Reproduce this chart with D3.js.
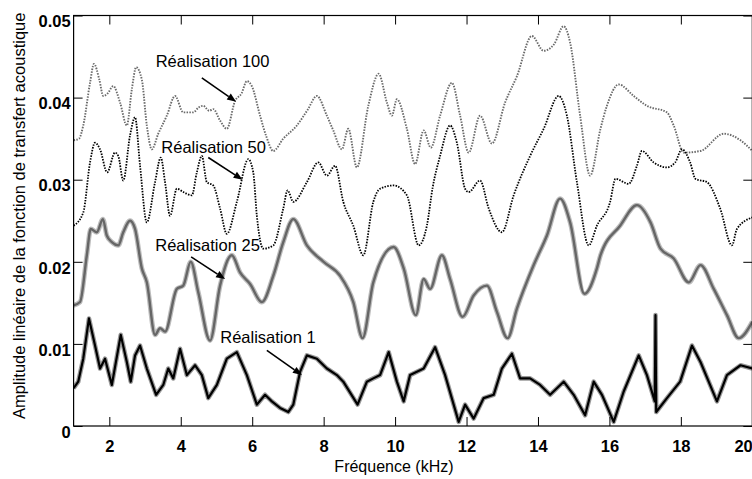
<!DOCTYPE html>
<html>
<head>
<meta charset="utf-8">
<script src="https://cdn.jsdelivr.net/npm/d3@7"></script>
<style>
  html, body { margin: 0; padding: 0; background: #fff; }
  svg { display: block; font-family: "Liberation Sans", Arial, Helvetica, sans-serif; }
</style>
</head>
<body>
<svg id="chart" width="752" height="479"></svg>
<script>
// Transfer-function amplitude for four realisations (frequency in kHz)
const r100Freq = [1.00,1.15,1.27,1.46,1.57,1.72,1.83,1.95,2.11,2.30,2.49,2.63,2.75,2.91,3.05,3.19,3.37,3.61,3.84,4.07,4.35,4.50,4.63,4.80,4.91,5.10,5.29,5.52,5.70,5.85,5.99,6.22,6.40,6.59,6.87,7.25,7.55,7.81,8.09,8.27,8.51,8.69,8.93,9.25,9.54,9.77,9.91,10.05,10.33,10.56,10.80,11.00,11.26,11.59,11.82,12.06,12.38,12.71,13.08,13.41,13.83,14.16,14.45,14.72,14.90,15.18,15.46,15.75,15.93,16.26,16.68,17.05,17.61,17.80,18.08,18.55,19.20,19.67,20.00];
const r100Amp  = [0.0348,0.0350,0.0366,0.0418,0.0441,0.0422,0.0402,0.0405,0.0414,0.0394,0.0366,0.0410,0.0437,0.0422,0.0366,0.0337,0.0356,0.0378,0.0402,0.0382,0.0382,0.0388,0.0390,0.0384,0.0386,0.0372,0.0362,0.0396,0.0405,0.0420,0.0414,0.0378,0.0352,0.0335,0.0350,0.0366,0.0385,0.0402,0.0378,0.0360,0.0337,0.0362,0.0315,0.0390,0.0429,0.0394,0.0378,0.0398,0.0362,0.0319,0.0360,0.0339,0.0378,0.0418,0.0378,0.0333,0.0378,0.0344,0.0394,0.0426,0.0475,0.0457,0.0465,0.0487,0.0467,0.0378,0.0305,0.0362,0.0390,0.0416,0.0402,0.0390,0.0382,0.0366,0.0333,0.0335,0.0356,0.0348,0.0335];

const r50Freq = [1.00,1.27,1.46,1.60,1.74,1.94,2.16,2.25,2.39,2.58,2.72,2.86,3.05,3.28,3.44,3.56,3.70,3.89,4.07,4.31,4.45,4.59,4.73,4.91,5.10,5.29,5.57,5.89,6.03,6.13,6.31,6.59,6.87,6.99,7.15,7.53,7.85,8.09,8.32,8.55,8.83,9.11,9.39,9.58,9.96,10.33,10.66,10.89,11.05,11.26,11.54,11.73,11.96,12.06,12.38,12.62,12.99,13.32,13.78,14.16,14.58,14.81,15.09,15.42,15.65,16.02,16.17,16.54,16.77,16.91,17.24,17.61,17.84,18.03,18.26,18.41,18.73,19.10,19.43,19.57,20.00];
const r50Amp  = [0.0244,0.0260,0.0321,0.0345,0.0337,0.0309,0.0333,0.0329,0.0299,0.0354,0.0376,0.0317,0.0248,0.0297,0.0327,0.0297,0.0256,0.0289,0.0285,0.0281,0.0309,0.0329,0.0297,0.0293,0.0265,0.0234,0.0273,0.0325,0.0309,0.0256,0.0216,0.0220,0.0265,0.0287,0.0273,0.0297,0.0321,0.0305,0.0317,0.0273,0.0244,0.0208,0.0273,0.0289,0.0293,0.0281,0.0220,0.0244,0.0290,0.0329,0.0366,0.0345,0.0289,0.0285,0.0299,0.0265,0.0236,0.0281,0.0329,0.0362,0.0402,0.0378,0.0297,0.0220,0.0244,0.0273,0.0301,0.0295,0.0317,0.0335,0.0321,0.0315,0.0321,0.0337,0.0321,0.0301,0.0297,0.0265,0.0220,0.0240,0.0254];

const r25Freq = [1.00,1.18,1.37,1.48,1.65,1.82,1.93,2.07,2.25,2.39,2.58,2.72,2.91,3.05,3.28,3.42,3.56,3.89,4.07,4.28,4.49,4.82,5.10,5.43,5.66,5.94,6.27,6.59,6.87,7.15,7.53,8.00,8.46,8.83,9.09,9.39,9.96,10.24,10.58,10.80,10.98,11.31,11.54,11.89,12.20,12.57,12.85,13.15,13.41,13.88,14.25,14.62,14.90,15.30,15.65,15.75,16.30,16.77,17.15,17.43,17.80,18.22,18.55,18.92,19.29,19.62,20.00];
const r25Amp  = [0.0147,0.0151,0.0208,0.0240,0.0236,0.0252,0.0232,0.0224,0.0220,0.0236,0.0250,0.0240,0.0192,0.0175,0.0111,0.0119,0.0115,0.0167,0.0171,0.0200,0.0163,0.0104,0.0171,0.0208,0.0187,0.0173,0.0151,0.0183,0.0224,0.0252,0.0220,0.0200,0.0183,0.0151,0.0107,0.0175,0.0218,0.0192,0.0135,0.0179,0.0167,0.0208,0.0179,0.0133,0.0159,0.0171,0.0139,0.0107,0.0143,0.0196,0.0232,0.0277,0.0248,0.0161,0.0192,0.0208,0.0244,0.0269,0.0248,0.0216,0.0204,0.0175,0.0196,0.0167,0.0135,0.0107,0.0127];

const r1Freq = [1.00,1.13,1.27,1.43,1.60,1.74,1.88,2.07,2.32,2.49,2.60,2.72,2.86,3.05,3.31,3.51,3.65,3.79,3.98,4.17,4.40,4.59,4.77,5.01,5.29,5.57,5.85,6.13,6.36,6.55,6.78,7.01,7.15,7.34,7.53,7.81,8.09,8.37,8.55,8.95,9.21,9.39,9.58,9.82,10.05,10.24,10.42,10.80,11.12,11.40,11.78,11.96,12.20,12.48,12.76,12.99,13.27,13.50,13.78,14.06,14.34,14.72,15.00,15.32,15.56,15.79,16.12,16.40,16.82,17.05,17.27,17.29,17.31,17.61,17.98,18.31,18.55,19.01,19.29,19.67,20.00];
const r1Amp  = [0.0046,0.0054,0.0082,0.0131,0.0098,0.0070,0.0082,0.0050,0.0111,0.0078,0.0054,0.0086,0.0098,0.0070,0.0038,0.0050,0.0070,0.0058,0.0094,0.0062,0.0074,0.0062,0.0034,0.0050,0.0082,0.0090,0.0062,0.0026,0.0038,0.0030,0.0022,0.0017,0.0026,0.0066,0.0086,0.0082,0.0070,0.0062,0.0054,0.0026,0.0054,0.0058,0.0062,0.0090,0.0054,0.0030,0.0062,0.0070,0.0096,0.0062,0.0005,0.0026,0.0009,0.0034,0.0038,0.0070,0.0088,0.0058,0.0058,0.0050,0.0038,0.0054,0.0038,0.0013,0.0054,0.0038,0.0005,0.0042,0.0086,0.0062,0.0030,0.0135,0.0017,0.0034,0.0054,0.0098,0.0078,0.0030,0.0062,0.0074,0.0070];

const xTicks = [2, 4, 6, 8, 10, 12, 14, 16, 18, 20];
const yTicks = [0, 0.01, 0.02, 0.03, 0.04, 0.05];
const yTickLabels = ["0", "0.01", "0.02", "0.03", "0.04", "0.05"];

// Callout labels: text, label anchor and arrow (tail -> head) in data units
const labelText = ["Réalisation 100", "Réalisation 50", "Réalisation 25", "Réalisation 1"];
const labelAt   = [[4.89, 0.0437], [4.92, 0.0333], [4.75, 0.0213], [6.44, 0.01005]];
const arrowTail = [[4.59, 0.0424], [4.77, 0.0327], [4.29, 0.0206], [6.41, 0.0092]];
const arrowHead = [[5.55, 0.0395], [5.73, 0.0300], [5.24, 0.0179], [7.39, 0.0062]];

const xLabel = "Fréquence (kHz)";
const yLabel = "Amplitude linéaire de la fonction de transfert acoustique";

// ---- layout ----
const svg = d3.select("#chart");
const plotLeft = 73.6, plotRight = 752.3, plotTop = 15.5, plotBottom = 426;

const x = d3.scaleLinear().domain([1, 20]).range([plotLeft, plotRight]);
const y = d3.scaleLinear().domain([0, 0.05]).range([plotBottom, plotTop]);

const smooth = d3.line()
  .x(d => x(d[0]))
  .y(d => y(d[1]))
  .curve(d3.curveMonotoneX);
const jagged = d3.line()
  .x(d => x(d[0]))
  .y(d => y(d[1]));

const pairs = (f, a) => f.map((v, i) => [v, a[i]]);

const clipId = "plotclip";
svg.append("defs").append("clipPath").attr("id", clipId)
  .append("rect").attr("x", plotLeft).attr("y", plotTop - 2)
  .attr("width", plotRight - plotLeft).attr("height", plotBottom - plotTop + 2);
const plot = svg.append("g").attr("clip-path", `url(#${clipId})`);

// Realisation 100: grey dotted
plot.append("path")
  .attr("d", smooth(pairs(r100Freq, r100Amp)))
  .attr("fill", "none").attr("stroke", "#6a6a6a")
  .attr("stroke-width", 1.9).attr("stroke-dasharray", "1.5,1.3");

// Realisation 50: black dotted
plot.append("path")
  .attr("d", smooth(pairs(r50Freq, r50Amp)))
  .attr("fill", "none").attr("stroke", "#000")
  .attr("stroke-width", 1.8).attr("stroke-dasharray", "1.5,1.3");

// Realisation 25: grey solid band
const r25 = smooth(pairs(r25Freq, r25Amp));
plot.append("path").attr("d", r25)
  .attr("fill", "none").attr("stroke", "#6a6a6a")
  .attr("stroke-width", 4.8).attr("stroke-opacity", 0.45)
  .attr("stroke-linejoin", "round");
plot.append("path").attr("d", r25)
  .attr("fill", "none").attr("stroke", "#666")
  .attr("stroke-width", 2.4).attr("stroke-linejoin", "round");

// Realisation 1: black solid band
const r1 = jagged(pairs(r1Freq, r1Amp));
plot.append("path").attr("d", r1)
  .attr("fill", "none").attr("stroke", "#000")
  .attr("stroke-width", 4.6).attr("stroke-opacity", 0.4)
  .attr("stroke-linejoin", "round");
plot.append("path").attr("d", r1)
  .attr("fill", "none").attr("stroke", "#000")
  .attr("stroke-width", 2.2).attr("stroke-linejoin", "round");

// ---- axes (ticks pointing inward on all four sides) ----
const tickFont = g => g.selectAll("text")
  .attr("font-family", "'Liberation Sans', Arial, sans-serif")
  .attr("font-weight", "bold").attr("font-size", 16.5).attr("fill", "#000");

const xAxis = svg.append("g").attr("transform", `translate(0,${plotBottom})`)
  .call(d3.axisBottom(x).tickValues(xTicks).tickFormat(d3.format("d"))
    .tickSizeInner(-9).tickSizeOuter(0).tickPadding(14))
  .call(tickFont);
xAxis.select(".domain").remove();
// last label is kept inside the page by anchoring it at its end
xAxis.selectAll(".tick text").filter(d => d === xTicks[xTicks.length - 1])
  .attr("text-anchor", "end").attr("x", 0);

const yAxis = svg.append("g").attr("transform", `translate(${plotLeft},0)`)
  .call(d3.axisLeft(y).tickValues(yTicks).tickFormat((d, i) => yTickLabels[i])
    .tickSizeInner(-9).tickSizeOuter(0).tickPadding(3))
  .call(tickFont);
yAxis.select(".domain").remove();
yAxis.selectAll("text").attr("dy", "0.68em");

svg.append("g").attr("transform", `translate(0,${plotTop})`)
  .call(d3.axisTop(x).tickValues(xTicks).tickFormat("")
    .tickSizeInner(-9).tickSizeOuter(0))
  .select(".domain").remove();

svg.append("g").attr("transform", `translate(${plotRight},0)`)
  .call(d3.axisRight(y).tickValues(yTicks).tickFormat("")
    .tickSizeInner(-9).tickSizeOuter(0))
  .select(".domain").remove();

svg.selectAll(".tick line").attr("stroke", "#000").attr("stroke-width", 1);

// frame
svg.append("rect")
  .attr("x", plotLeft).attr("y", plotTop)
  .attr("width", plotRight - plotLeft).attr("height", plotBottom - plotTop)
  .attr("fill", "none").attr("stroke", "#000").attr("stroke-width", 1.2);

// ---- axis titles ----
svg.append("text")
  .attr("x", (plotLeft + plotRight) / 2 - 19).attr("y", 471.5)
  .attr("text-anchor", "middle").attr("font-size", 16)
  .text(xLabel);

svg.append("text")
  .attr("transform", `translate(25,${(plotTop + plotBottom) / 2 - 5}) rotate(-90)`)
  .attr("text-anchor", "middle").attr("font-size", 16.5)
  .text(yLabel);

// ---- callouts ----
const ann = svg.append("g");
labelText.forEach((t, i) => {
  ann.append("text")
    .attr("x", x(labelAt[i][0])).attr("y", y(labelAt[i][1]))
    .attr("text-anchor", "middle").attr("font-size", 16.5)
    .text(t);

  const x0 = x(arrowTail[i][0]), y0 = y(arrowTail[i][1]);
  const x1 = x(arrowHead[i][0]), y1 = y(arrowHead[i][1]);
  const ang = Math.atan2(y1 - y0, x1 - x0);
  const len = 9, half = 3.6;
  const bx = x1 - len * Math.cos(ang), by = y1 - len * Math.sin(ang);
  ann.append("line")
    .attr("x1", x0).attr("y1", y0).attr("x2", bx).attr("y2", by)
    .attr("stroke", "#000").attr("stroke-width", 1.6);
  ann.append("path")
    .attr("d", `M${x1},${y1}L${bx - half * Math.sin(ang)},${by + half * Math.cos(ang)}L${bx + half * Math.sin(ang)},${by - half * Math.cos(ang)}Z`)
    .attr("fill", "#000");
});
</script>
</body>
</html>
